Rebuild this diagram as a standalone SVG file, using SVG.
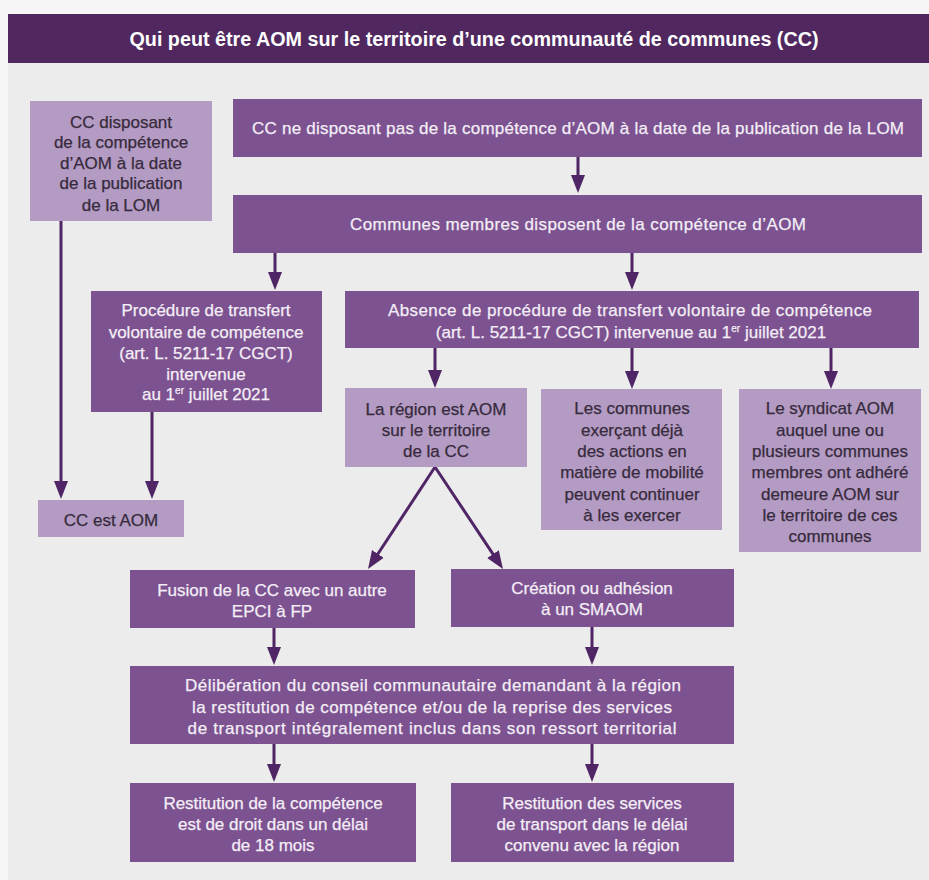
<svg xmlns="http://www.w3.org/2000/svg" width="929" height="880" viewBox="0 0 929 880">
<style>
  .bg { fill: #f6f6f6; }
  .panel { fill: #ececec; }
  .hdr { fill: #50285f; }
  .med { fill: #7c5290; }
  .lite { fill: #b39bc3; }
  text { font-family: "Liberation Sans", "DejaVu Sans", sans-serif; font-size: 17px; text-anchor: middle; }
  .tw { fill: #f4eef6; stroke: #f4eef6; stroke-width: 0.25; }
  .td { fill: #372a3c; stroke: #372a3c; stroke-width: 0.25; }
  .title { fill: #ffffff; font-size: 19.5px; font-weight: bold; }
  .conn { stroke: #4f2565; stroke-width: 3; fill: none; marker-end: url(#ah); }
  .sup { font-size: 10px; }
</style>
<defs>
  <marker id="ah" markerUnits="userSpaceOnUse" viewBox="0 -8 20 16" markerWidth="20" markerHeight="16" refX="4" refY="0" orient="auto">
    <path d="M0,-7 L18,0 L0,7 Z" fill="#4f2565"/>
  </marker>
</defs>

<rect class="bg" x="0" y="0" width="929" height="880"/>
<rect class="panel" x="8" y="63" width="921" height="817"/>

<g id="header">
  <rect class="hdr" x="8" y="14" width="921" height="49"/>
  <text class="title" x="474" y="46" textLength="689" lengthAdjust="spacingAndGlyphs">Qui peut être AOM sur le territoire d’une communauté de communes (CC)</text>
</g>

<g id="connectors">
  <line class="conn" x1="578" y1="157" x2="578" y2="179"/>
  <line class="conn" x1="275" y1="253" x2="275" y2="276"/>
  <line class="conn" x1="632" y1="253" x2="632" y2="276"/>
  <line class="conn" x1="61" y1="221" x2="61" y2="485"/>
  <line class="conn" x1="152" y1="412" x2="152" y2="485"/>
  <line class="conn" x1="435" y1="348" x2="435" y2="374"/>
  <line class="conn" x1="632" y1="348" x2="632" y2="375"/>
  <line class="conn" x1="831" y1="348" x2="831" y2="375"/>
  <line class="conn" x1="435" y1="467" x2="375.7" y2="557.3"/>
  <line class="conn" x1="435" y1="467" x2="495.2" y2="557.4"/>
  <line class="conn" x1="274" y1="628" x2="274" y2="651"/>
  <line class="conn" x1="592" y1="627" x2="592" y2="651"/>
  <line class="conn" x1="274" y1="744" x2="274" y2="768"/>
  <line class="conn" x1="592" y1="744" x2="592" y2="768"/>
</g>

<g id="cc-disposant">
  <rect class="lite" x="30" y="101" width="182" height="120"/>
  <text class="td" x="121" y="128">CC disposant</text>
  <text class="td" x="121" y="148">de la compétence</text>
  <text class="td" x="121" y="169">d’AOM à la date</text>
  <text class="td" x="121" y="189">de la publication</text>
  <text class="td" x="121" y="211">de la LOM</text>
</g>

<g id="cc-ne-disposant">
  <rect class="med" x="233" y="99" width="689" height="58"/>
  <text class="tw" x="578" y="134" textLength="652">CC ne disposant pas de la compétence d’AOM à la date de la publication de la LOM</text>
</g>

<g id="communes-membres">
  <rect class="med" x="233" y="195" width="689" height="58"/>
  <text class="tw" x="578" y="230" textLength="456">Communes membres disposent de la compétence d’AOM</text>
</g>

<g id="procedure">
  <rect class="med" x="91" y="291" width="231" height="121"/>
  <text class="tw" x="206" y="316">Procédure de transfert</text>
  <text class="tw" x="206" y="338">volontaire de compétence</text>
  <text class="tw" x="206" y="359">(art. L. 5211-17 CGCT)</text>
  <text class="tw" x="206" y="380">intervenue</text>
  <text class="tw" x="206" y="400">au 1<tspan class="sup" dy="-6">er</tspan><tspan dy="6"> juillet 2021</tspan></text>
</g>

<g id="absence">
  <rect class="med" x="345" y="291" width="574" height="57"/>
  <text class="tw" x="630" y="316" textLength="484">Absence de procédure de transfert volontaire de compétence</text>
  <text class="tw" x="631" y="338">(art. L. 5211-17 CGCT) intervenue au 1<tspan class="sup" dy="-6">er</tspan><tspan dy="6"> juillet 2021</tspan></text>
</g>

<g id="cc-est-aom">
  <rect class="lite" x="38" y="500" width="146" height="37"/>
  <text class="td" x="111" y="526">CC est AOM</text>
</g>

<g id="region-aom">
  <rect class="lite" x="345" y="388" width="182" height="79"/>
  <text class="td" x="436" y="415">La région est AOM</text>
  <text class="td" x="436" y="436">sur le territoire</text>
  <text class="td" x="436" y="457">de la CC</text>
</g>

<g id="communes-exercant">
  <rect class="lite" x="541" y="389" width="181" height="141"/>
  <text class="td" x="632" y="414">Les communes</text>
  <text class="td" x="632" y="435.5">exerçant déjà</text>
  <text class="td" x="632" y="457">des actions en</text>
  <text class="td" x="632" y="478">matière de mobilité</text>
  <text class="td" x="632" y="499.5">peuvent continuer</text>
  <text class="td" x="632" y="521">à les exercer</text>
</g>

<g id="syndicat">
  <rect class="lite" x="739" y="389" width="182" height="163"/>
  <text class="td" x="830" y="414">Le syndicat AOM</text>
  <text class="td" x="830" y="435.5">auquel une ou</text>
  <text class="td" x="830" y="457">plusieurs communes</text>
  <text class="td" x="830" y="478">membres ont adhéré</text>
  <text class="td" x="830" y="499.5">demeure AOM sur</text>
  <text class="td" x="830" y="521">le territoire de ces</text>
  <text class="td" x="830" y="542">communes</text>
</g>

<g id="fusion">
  <rect class="med" x="130" y="570" width="285" height="58"/>
  <text class="tw" x="272" y="596">Fusion de la CC avec un autre</text>
  <text class="tw" x="272" y="617">EPCI à FP</text>
</g>

<g id="creation">
  <rect class="med" x="451" y="569" width="283" height="58"/>
  <text class="tw" x="592" y="594">Création ou adhésion</text>
  <text class="tw" x="592" y="615">à un SMAOM</text>
</g>

<g id="deliberation">
  <rect class="med" x="130" y="666" width="604" height="78"/>
  <text class="tw" x="433" y="691" textLength="496">Délibération du conseil communautaire demandant à la région</text>
  <text class="tw" x="432" y="713" textLength="480">la restitution de compétence et/ou de la reprise des services</text>
  <text class="tw" x="432" y="734" textLength="489">de transport intégralement inclus dans son ressort territorial</text>
</g>

<g id="restitution-competence">
  <rect class="med" x="130" y="783" width="286" height="79"/>
  <text class="tw" x="273" y="809">Restitution de la compétence</text>
  <text class="tw" x="273" y="830">est de droit dans un délai</text>
  <text class="tw" x="273" y="851">de 18 mois</text>
</g>

<g id="restitution-services">
  <rect class="med" x="451" y="783" width="283" height="79"/>
  <text class="tw" x="592" y="809">Restitution des services</text>
  <text class="tw" x="592" y="830">de transport dans le délai</text>
  <text class="tw" x="592" y="851">convenu avec la région</text>
</g>
</svg>
